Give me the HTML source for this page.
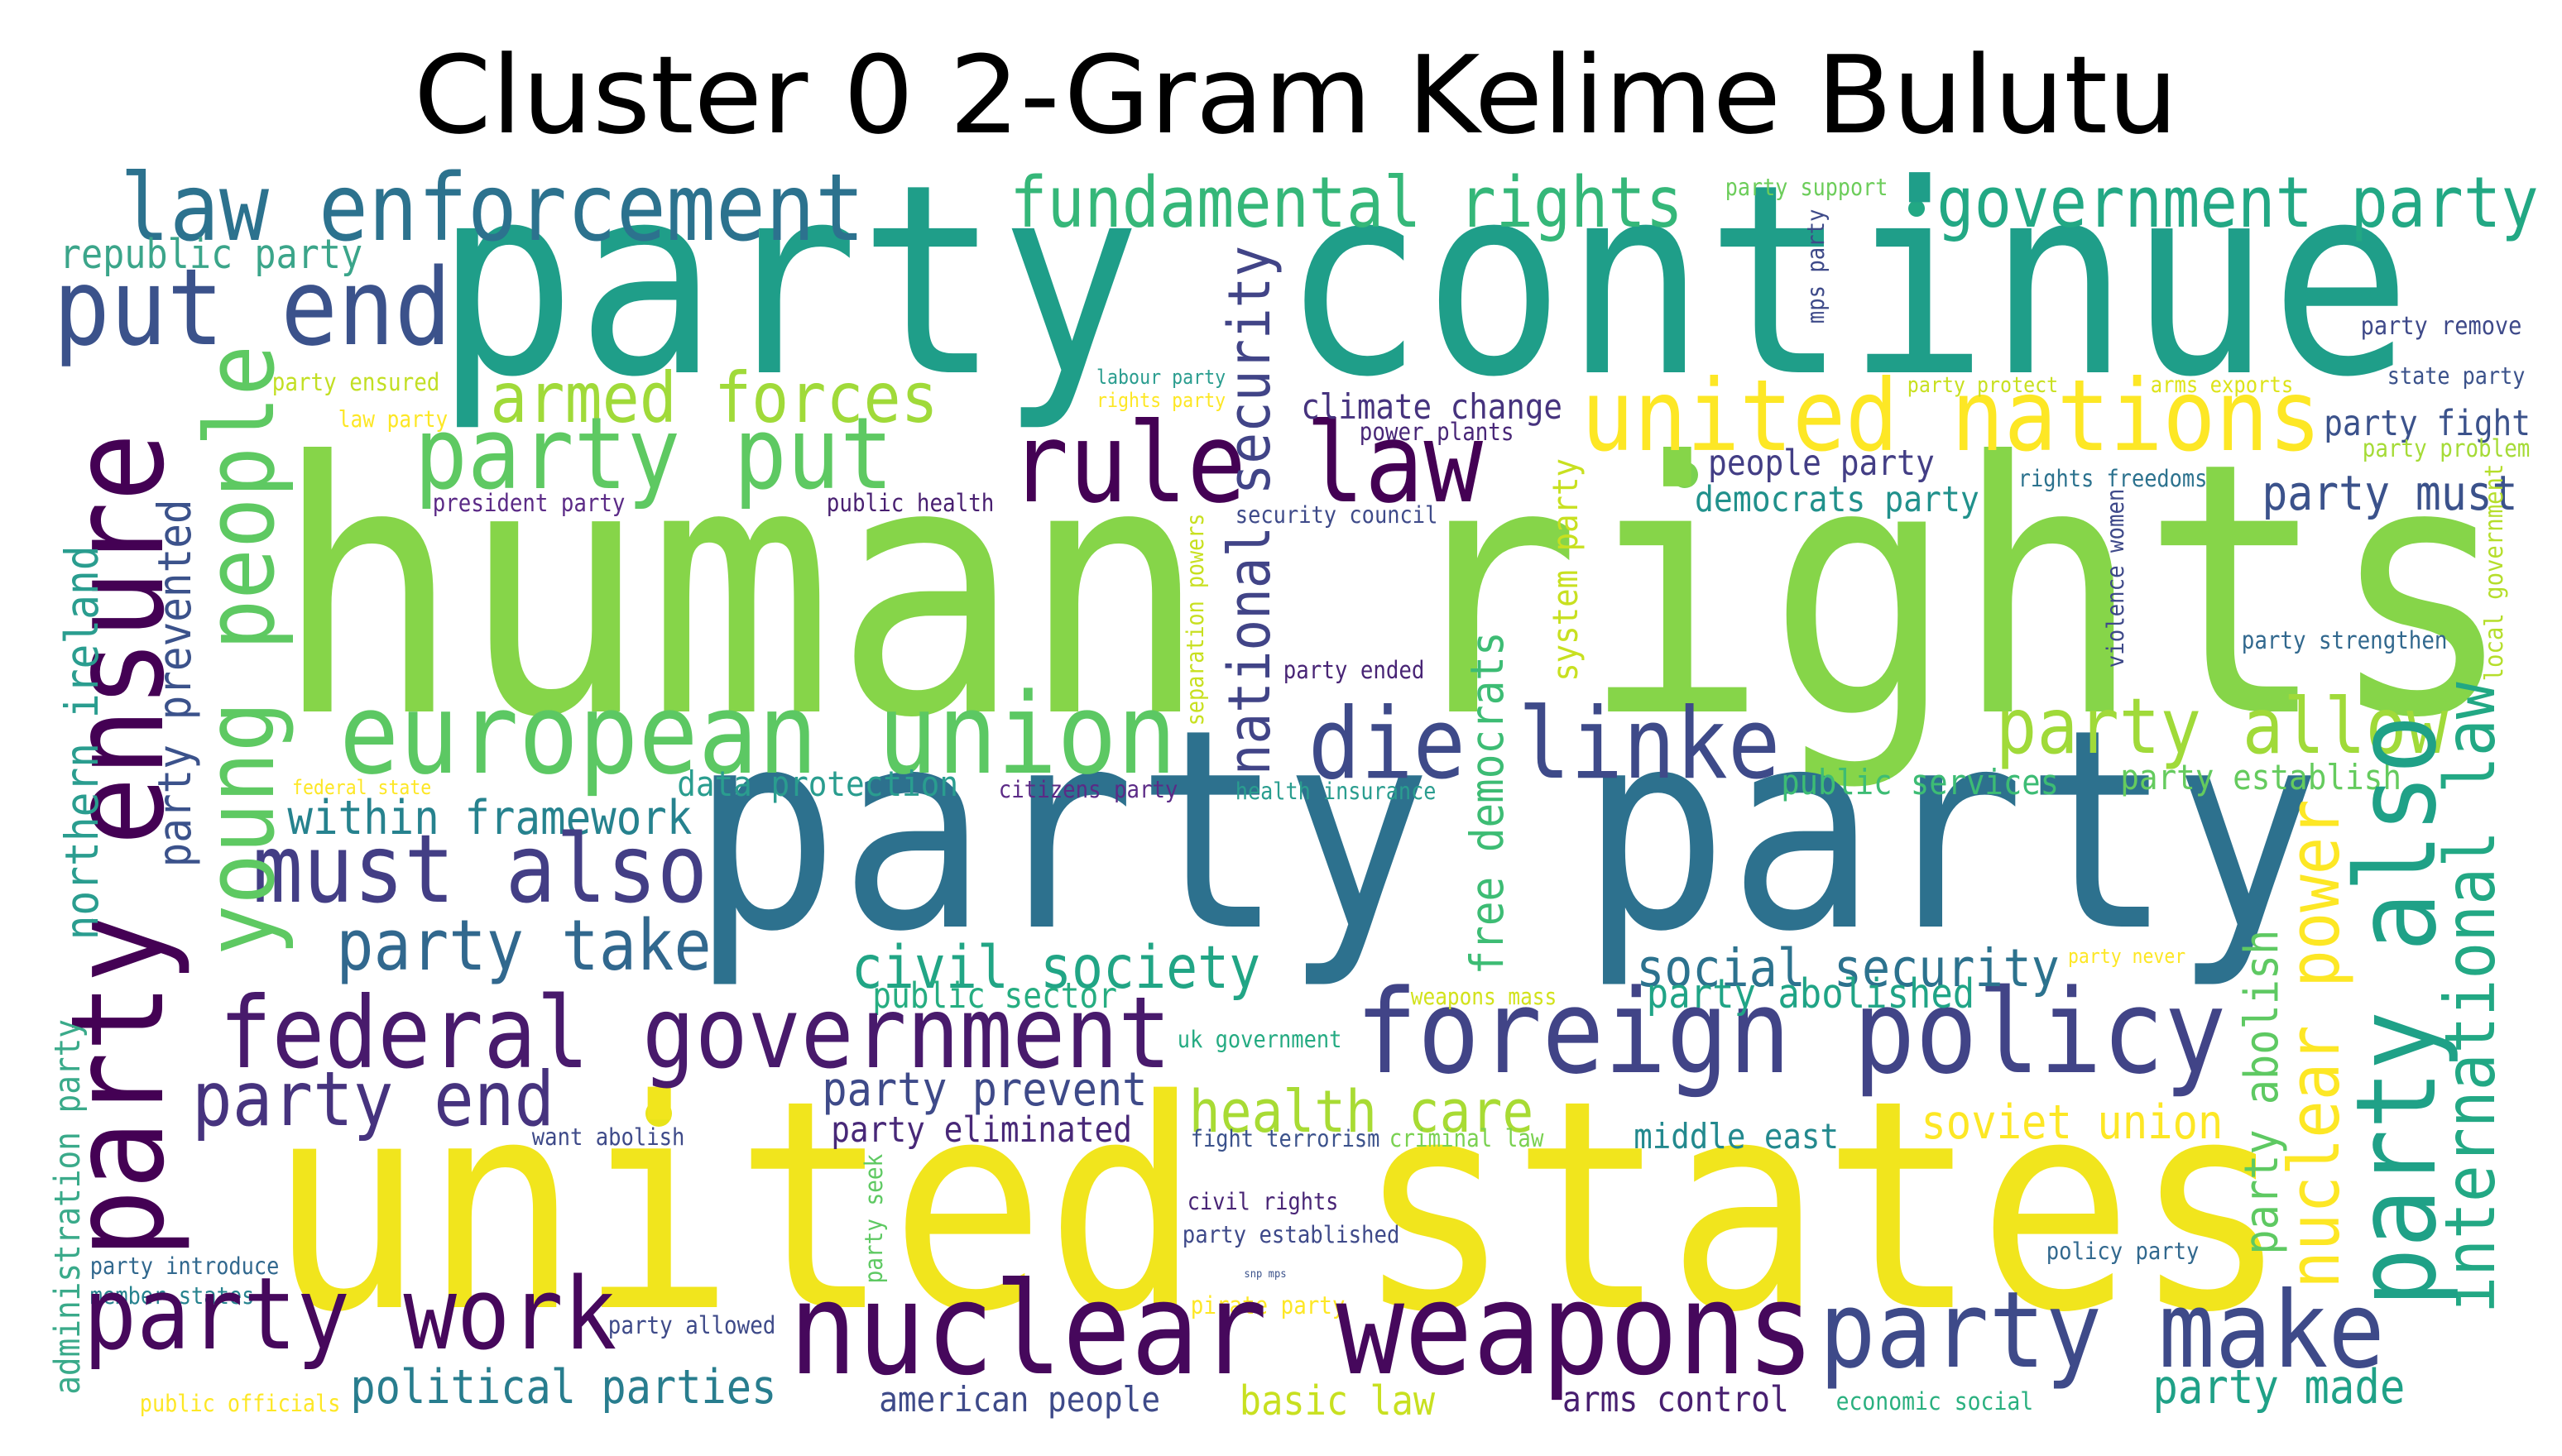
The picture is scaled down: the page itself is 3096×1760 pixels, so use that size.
<!DOCTYPE html>
<html><head><meta charset="utf-8"><style>
html,body{margin:0;padding:0;background:#fff;}
svg{display:block;}
</style></head><body>
<svg id="cloud" width="3096" height="1760" viewBox="0 0 1548 880" xmlns="http://www.w3.org/2000/svg">
<rect width="1548" height="880" fill="#fff"/>
<text x="783" y="80" text-anchor="middle" font-family="DejaVu Sans, Liberation Sans, sans-serif" font-size="65" textLength="1066" lengthAdjust="spacingAndGlyphs" fill="#000">Cluster 0 2-Gram Kelime Bulutu</text>
<circle cx="1158" cy="126" r="5" fill="#22a884"/>
<circle cx="1018" cy="287" r="8" fill="#7ad151"/>
<circle cx="398" cy="673" r="8" fill="#e8e419"/>
<g id="words"></g>
</svg>
<script>
// horizontal words: text, left x, right x, baseline y, colour
const hWords = [
["human rights",175,1510,430,"#86d549"],
["party continue",270,1450,225,"#1f9e89"],
["party party",425,1395,560,"#2d718e"],
["united states",170,1375,790,"#f1e51d"],
["law enforcement",75,520,145,"#2c728e"],
["republic party",37,218,162,"#3ba58a"],
["put end",35,270,208,"#3b528b"],
["fundamental rights",612,1015,137,"#35b779"],
["government party",1172,1532,137,"#22a884"],
["party support",1043,1140,118,"#6ccd5a"],
["armed forces",298,565,255,"#a0da39"],
["party put",253,537,295,"#5ec962"],
["rule law",613,893,303,"#440154"],
["united nations",958,1400,272,"#fde725"],
["climate change",787,943,253,"#46337e"],
["labour party",663,740,232,"#2a9d8f"],
["rights party",663,740,246,"#fde725"],
["party ensured",165,265,236,"#c2df23"],
["law party",205,270,258,"#fde725"],
["power plants",822,914,266,"#482677"],
["party protect",1153,1243,237,"#c8e020"],
["arms exports",1300,1385,237,"#dde318"],
["state party",1443,1525,232,"#3b528b"],
["party remove",1427,1523,202,"#3e4989"],
["party fight",1405,1528,263,"#3b528b"],
["party problem",1428,1528,276,"#a5db36"],
["people party",1033,1168,287,"#433e85"],
["democrats party",1025,1195,309,"#21918c"],
["rights freedoms",1220,1333,294,"#2c728e"],
["party must",1368,1520,308,"#3b528b"],
["president party",262,377,309,"#5b2a86"],
["public health",500,600,309,"#481f70"],
["security council",747,868,316,"#3e4a89"],
["party ended",776,860,410,"#482475"],
["party strengthen",1355,1478,392,"#31688e"],
["european union",208,708,467,"#5cc863"],
["die linke",793,1073,470,"#3e4a89"],
["party allow",1208,1477,455,"#a0da39"],
["public services",1077,1243,480,"#3dbc74"],
["party establish",1282,1450,477,"#65cb5e"],
["data protection",410,578,481,"#2a9d8f"],
["federal state",177,260,480,"#fde725"],
["citizens party",604,711,482,"#5b2a86"],
["health insurance",747,867,483,"#2a9d8f"],
["within framework",175,417,504,"#26828e"],
["must also",155,425,545,"#433e85"],
["party take",205,428,586,"#31688e"],
["civil society",516,760,597,"#21a585"],
["public sector",528,674,609,"#26ad81"],
["federal government",135,705,645,"#481a6c"],
["foreign policy",822,1342,648,"#414487"],
["social security",990,1243,596,"#2c728e"],
["party abolished",996,1192,609,"#20a486"],
["party never",1250,1320,582,"#fde725"],
["weapons mass",853,940,607,"#d2e21b"],
["uk government",712,810,633,"#25ab82"],
["party end",118,333,680,"#46337e"],
["party prevent",498,692,668,"#3e4a89"],
["party eliminated",503,683,690,"#482878"],
["want abolish",322,413,692,"#3e4a89"],
["health care",720,925,684,"#a8db34"],
["fight terrorism",720,833,693,"#3b528b"],
["criminal law",840,932,693,"#7ad151"],
["middle east",988,1110,694,"#23898e"],
["soviet union",1162,1342,688,"#fde725"],
["civil rights",718,808,731,"#482475"],
["party established",715,845,751,"#3e4989"],
["snp mps",752,777,772,"#3b528b"],
["pirate party",720,812,794,"#fde725"],
["policy party",1237,1328,761,"#31688e"],
["party introduce",55,168,770,"#31688e"],
["member states",55,153,788,"#26828e"],
["party work",53,370,815,"#46085c"],
["party allowed",368,468,806,"#3e4a89"],
["nuclear weapons",480,1093,830,"#46085c"],
["party make",1102,1438,826,"#3e4a89"],
["political parties",213,468,848,"#287d8e"],
["public officials",85,205,853,"#fde725"],
["american people",532,700,853,"#3e4a89"],
["basic law",750,866,855,"#c8e020"],
["arms control",945,1080,853,"#481f70"],
["economic social",1110,1228,852,"#2ab07f"],
["party made",1302,1452,848,"#1fa187"]
];
// vertical words (read bottom to top): text, baseline x, bottom y, top y, colour
const vWords = [
["party ensure",98,757,265,"#440154"],
["young people",165,575,211,"#5ec962"],
["northern ireland",59,567,331,"#2a9d8f"],
["party prevented",115,523,303,"#3b528b"],
["administration party",48,842,617,"#3aaa8a"],
["national security",767,467,150,"#414487"],
["separation powers",727,438,311,"#c8e020"],
["free democrats",908,588,383,"#3dbc74"],
["system party",953,411,278,"#c8e020"],
["mps party",1102,195,127,"#3e4a89"],
["violence women",1283,403,296,"#3e4989"],
["local government",1512,411,281,"#b5de2b"],
["international law",1507,792,414,"#22a884"],
["party also",1471,787,435,"#1fa187"],
["nuclear power",1413,777,485,"#fde725"],
["party abolish",1376,757,563,"#5ec962"],
["party seek",533,775,698,"#5ec962"]
];
const NS = "http://www.w3.org/2000/svg";
const g = document.getElementById("words");
function slug(s){return s.replace(/\s+/g,"-");}
function metrics(text, ink){
  const n = text.length;
  const unit = ink/(n*0.6-0.1);
  return {pad: 0.05*unit, len: n*0.6*unit, fs: unit*1.12};
}
hWords.forEach(function(w){
  const m = metrics(w[0], w[2]-w[1]);
  const t = document.createElementNS(NS,"text");
  t.setAttribute("x", (w[1]-m.pad).toFixed(1));
  t.setAttribute("y", w[3]);
  t.setAttribute("font-size", m.fs.toFixed(1));
  t.setAttribute("font-family","DejaVu Sans Mono, Liberation Mono, monospace");
  t.setAttribute("textLength", m.len.toFixed(1));
  t.setAttribute("lengthAdjust","spacingAndGlyphs");
  t.setAttribute("fill", w[4]);
  
  
  t.textContent = w[0];
  g.appendChild(t);
});
vWords.forEach(function(w){
  const m = metrics(w[0], w[2]-w[3]);
  const y = w[2]+m.pad;
  const t = document.createElementNS(NS,"text");
  t.setAttribute("x", w[1]);
  t.setAttribute("y", y.toFixed(1));
  t.setAttribute("transform","rotate(-90 "+w[1]+" "+y.toFixed(1)+")");
  t.setAttribute("font-size", m.fs.toFixed(1));
  t.setAttribute("font-family","DejaVu Sans Mono, Liberation Mono, monospace");
  t.setAttribute("textLength", m.len.toFixed(1));
  t.setAttribute("lengthAdjust","spacingAndGlyphs");
  t.setAttribute("fill", w[4]);
  
  
  t.textContent = w[0];
  g.appendChild(t);
});
</script>
</body></html>
